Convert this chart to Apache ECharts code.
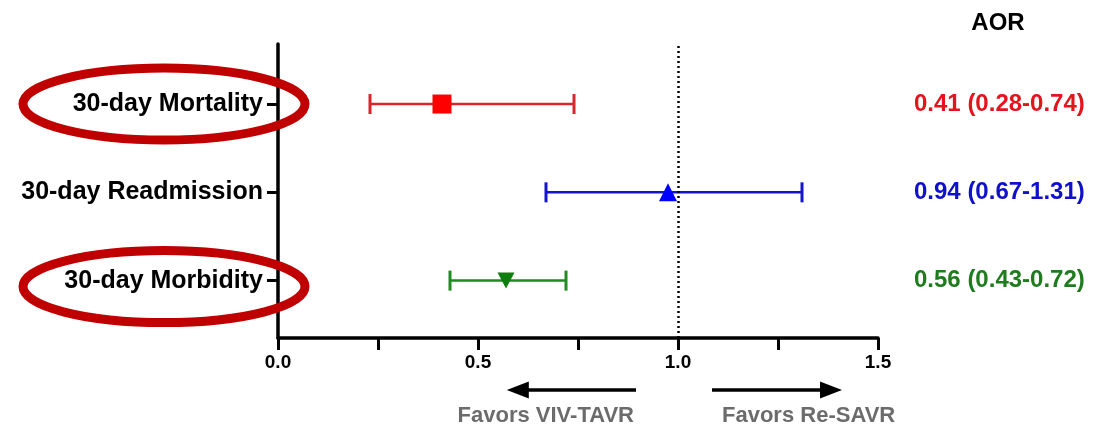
<!DOCTYPE html>
<html>
<head>
<meta charset="utf-8">
<script src="https://cdn.jsdelivr.net/npm/echarts@6/dist/echarts.min.js"></script>
<style>
  html, body { margin: 0; padding: 0; background: #fff; }
  #chart { width: 1097px; height: 428px; }
</style>
</head>
<body>
<div id="chart"></div>
<script>
// rows, top to bottom
const outcomes = ["30-day Mortality", "30-day Readmission", "30-day Morbidity"];
const rowPos = [3, 2, 1];
const aorPoint = [0.41, 0.975, 0.57];
const ciLow = [0.23, 0.67, 0.43];
const ciHigh = [0.74, 1.31, 0.72];
const aorText = ["0.41 (0.28-0.74)", "0.94 (0.67-1.31)", "0.56 (0.43-0.72)"];
const circled = [0, 2];
// x axis ticks
const xTickLabels = [0, 0.5, 1.0, 1.5];
const refLine = 1;
// bottom annotations
const favorsText = ["Favors VIV-TAVR", "Favors Re-SAVR"];
const arrowFrom = [0.895, 1.085];
const arrowTo = [0.572, 1.41];
const textAnchor = [0.89, 1.11];

const lineColors = ["#d9242b", "#1414cc", "#208a20"];
const markerColors = ["#ff0000", "#0000ff", "#0d7d0d"];
const textColors = ["#e3141c", "#1010cc", "#1e7c1e"];
const font = "'Liberation Sans', Arial, sans-serif";

const chart = echarts.init(document.getElementById("chart"));

const markerItems = outcomes.map((name, i) => ({
  value: [aorPoint[i], rowPos[i]],
  symbol: i === 0 ? "rect" : "triangle",
  symbolSize: i === 0 ? 19 : i === 1 ? [18, 18] : [17, 16],
  symbolRotate: i === 2 ? 180 : 0,
  itemStyle: { color: markerColors[i], opacity: 1 },
}));

const rich = {};
textColors.forEach((c, i) => {
  rich["c" + i] = { color: c, fontSize: 24, fontWeight: "bold", fontFamily: font };
});

const option = {
  animation: false,
  backgroundColor: "#fff",
  grid: { left: 278, right: 219, top: 44, bottom: 90 },
  xAxis: {
    type: "value",
    min: 0,
    max: 1.5,
    interval: 0.25,
    axisLine: { lineStyle: { color: "#000", width: 3.5 } },
    axisTick: { show: true, length: 12, lineStyle: { color: "#000", width: 3 } },
    axisLabel: {
      customValues: xTickLabels,
      formatter: (v) => v.toFixed(1),
      color: "#000",
      fontSize: 19,
      fontWeight: "bold",
      fontFamily: font,
      margin: 15,
    },
    splitLine: { show: false },
  },
  yAxis: [
    {
      type: "value",
      min: 0.35,
      max: 3.68,
      axisLine: { show: true, lineStyle: { color: "#000", width: 3.5 } },
      axisTick: { show: true, customValues: rowPos, length: 11, lineStyle: { color: "#000", width: 3 } },
      axisLabel: {
        customValues: rowPos,
        formatter: (v) => outcomes[rowPos.indexOf(v)],
        color: "#000",
        fontSize: 25,
        fontWeight: "bold",
        fontFamily: font,
        margin: 15,
      },
      splitLine: { show: false },
    },
    {
      type: "value",
      position: "right",
      min: 0.35,
      max: 3.68,
      axisLine: { show: false },
      axisTick: { show: false },
      axisLabel: {
        customValues: rowPos,
        formatter: (v) => {
          const i = rowPos.indexOf(v);
          return "{c" + i + "|" + aorText[i] + "}";
        },
        rich: rich,
        margin: 36,
      },
      splitLine: { show: false },
    },
  ],
  series: [
    {
      type: "custom",
      renderItem: (params, api) => {
        const lo = api.coord([api.value(0), api.value(2)]);
        const hi = api.coord([api.value(1), api.value(2)]);
        const c = lineColors[params.dataIndex];
        return {
          type: "group",
          children: [
            { type: "line", shape: { x1: lo[0], y1: lo[1], x2: hi[0], y2: hi[1] }, style: { stroke: c, lineWidth: 2.5 } },
            { type: "line", shape: { x1: lo[0], y1: lo[1] - 10, x2: lo[0], y2: lo[1] + 10 }, style: { stroke: c, lineWidth: 3 } },
            { type: "line", shape: { x1: hi[0], y1: hi[1] - 10, x2: hi[0], y2: hi[1] + 10 }, style: { stroke: c, lineWidth: 3 } },
          ],
        };
      },
      encode: { x: [0, 1], y: 2 },
      data: outcomes.map((n, i) => [ciLow[i], ciHigh[i], rowPos[i]]),
      z: 2,
    },
    {
      type: "scatter",
      data: markerItems,
      z: 3,
      markLine: {
        silent: true,
        symbol: "none",
        label: { show: false },
        lineStyle: { type: [2, 3], color: "#000", width: 2.5 },
        data: [{ xAxis: refLine }],
      },
    },
  ],
};
chart.setOption(option);

// annotations placed through the axes
const graphics = [];
graphics.push({
  type: "text",
  x: 998,
  y: 23,
  style: { text: "AOR", fill: "#000", font: "bold 24px " + font, textAlign: "center", textVerticalAlign: "middle" },
});
circled.forEach((i) => {
  const cy = chart.convertToPixel({ yAxisIndex: 0 }, rowPos[i]) + (i === 2 ? 6 : 0);
  graphics.push({
    type: "ellipse",
    z: 10,
    shape: { cx: 164, cy: cy, rx: 141, ry: 36 },
    style: { fill: "none", stroke: "#c00000", lineWidth: 9 },
  });
});
favorsText.forEach((t, i) => {
  const x0 = chart.convertToPixel({ xAxisIndex: 0 }, arrowFrom[i]);
  const x1 = chart.convertToPixel({ xAxisIndex: 0 }, arrowTo[i]);
  const dir = x1 > x0 ? 1 : -1;
  const yA = 390;
  graphics.push({
    type: "line",
    shape: { x1: x0, y1: yA, x2: x1 - dir * 20, y2: yA },
    style: { stroke: "#000", lineWidth: 3.5 },
  });
  graphics.push({
    type: "polygon",
    shape: { points: [[x1, yA], [x1 - dir * 22, yA - 8.5], [x1 - dir * 22, yA + 8.5]] },
    style: { fill: "#000" },
  });
  const tx = chart.convertToPixel({ xAxisIndex: 0 }, textAnchor[i]);
  graphics.push({
    type: "text",
    x: tx,
    y: 416,
    style: {
      text: t,
      fill: "#6b6b6b",
      font: "bold 22px " + font,
      textAlign: i === 0 ? "right" : "left",
      textVerticalAlign: "middle",
    },
  });
});
chart.setOption({ graphic: graphics });
</script>
</body>
</html>
